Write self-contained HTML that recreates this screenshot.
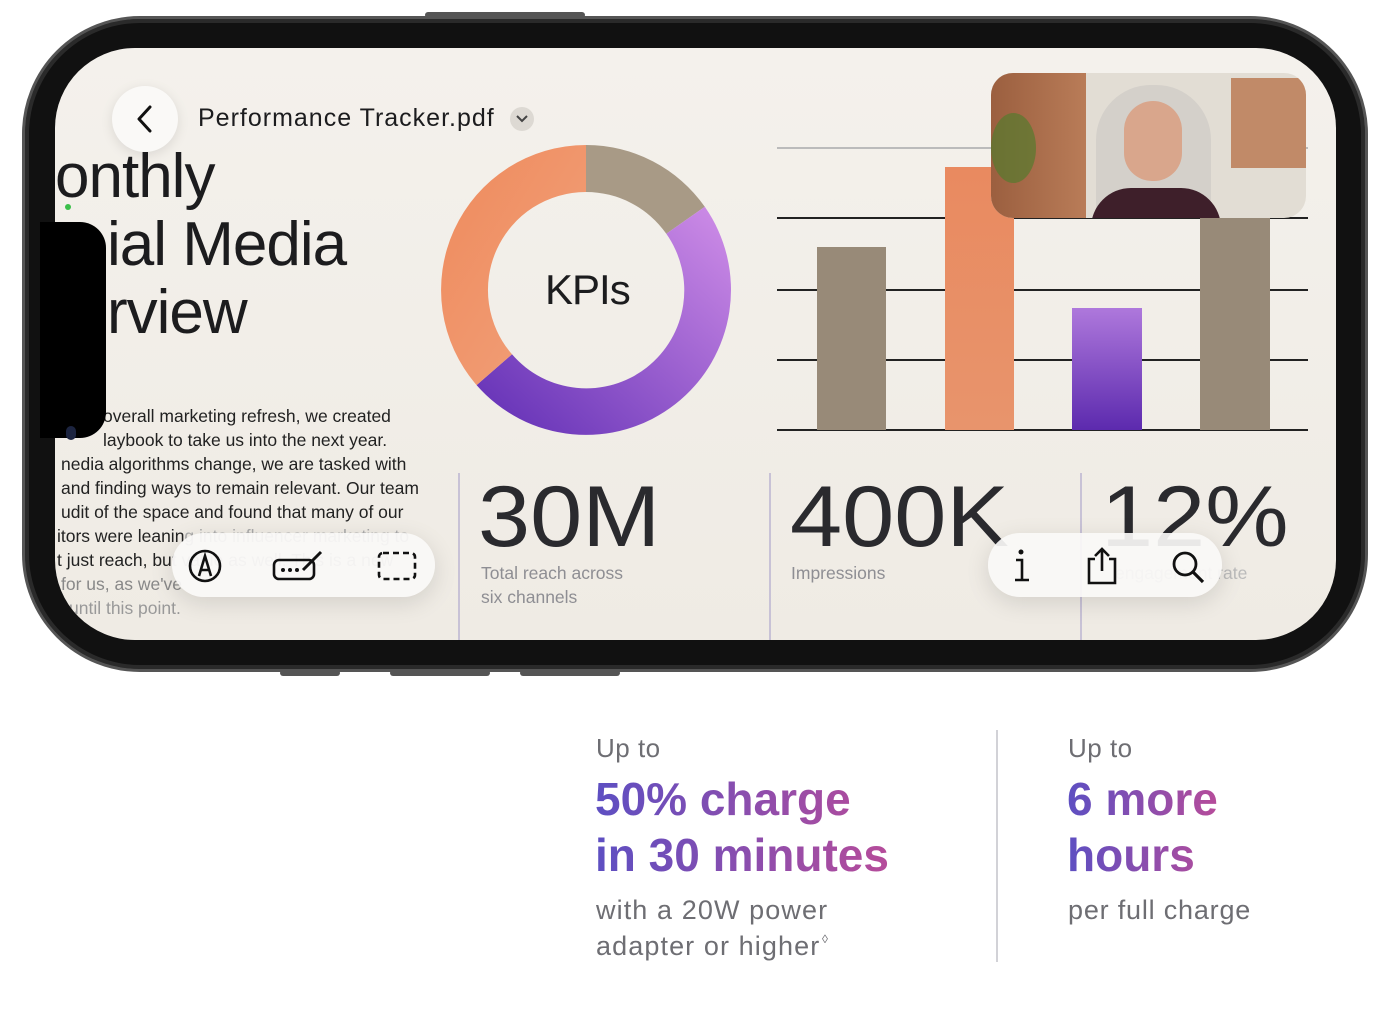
<!DOCTYPE html>
<html><head><style>
*{margin:0;padding:0;box-sizing:border-box}
body{width:1384px;height:1018px;background:#fff;font-family:"Liberation Sans",sans-serif;position:relative;overflow:hidden}
.abs{position:absolute}
.frame{left:22px;top:16px;width:1346px;height:656px;border-radius:118px;background:#111;border:3px solid #555;box-shadow:inset 0 0 0 4px #2a2a2a}
.screen{left:55px;top:48px;width:1281px;height:592px;border-radius:80px;background:linear-gradient(180deg,#f4f1ec,#efebe4);overflow:hidden}
.t{position:absolute;white-space:nowrap;color:#1c1c1e}
.body{font-size:17.5px;line-height:24.3px;color:#222}
.num{font-size:86px;font-weight:400;color:#2a2a2e;transform-origin:0 0;transform:scaleX(1.09)}
.lbl{font-size:17.5px;color:#8e8e93;line-height:24px}
.pill{background:rgba(250,249,247,.92);border-radius:34px;box-shadow:0 6px 24px rgba(0,0,0,.12)}
.grad{background:linear-gradient(90deg,#5d4fc2,#b64c9a);-webkit-background-clip:text;background-clip:text;color:transparent}
</style></head><body>
<div class="abs" style="left:425px;top:12px;width:160px;height:6px;background:#555;border-radius:3px"></div>
<div class="abs" style="left:280px;top:670px;width:60px;height:6px;background:#555;border-radius:3px"></div>
<div class="abs" style="left:390px;top:670px;width:100px;height:6px;background:#555;border-radius:3px"></div>
<div class="abs" style="left:520px;top:670px;width:100px;height:6px;background:#555;border-radius:3px"></div>
<div class="abs frame"></div>
<div class="abs screen">
  <div class="t" style="left:0;top:95px;font-size:62px;line-height:68px;letter-spacing:-1px">onthly</div>
  <div class="t" style="left:52px;top:163px;font-size:62px;line-height:68px;letter-spacing:-1px">ial Media</div>
  <div class="t" style="left:52px;top:231px;font-size:62px;line-height:68px;letter-spacing:-1px">rview</div>
  <div class="abs" style="left:10px;top:156px;width:6px;height:6px;border-radius:3px;background:#3bbf4a"></div>
  <div class="t body" style="left:48px;top:356px">overall marketing refresh, we created</div>
  <div class="t body" style="left:48px;top:380px">laybook to take us into the next year.</div>
  <div class="t body" style="left:6px;top:404px">nedia algorithms change, we are tasked with</div>
  <div class="t body" style="left:6px;top:428px">and finding ways to remain relevant. Our team</div>
  <div class="t body" style="left:6px;top:452px">udit of the space and found that many of our</div>
  <div class="t body" style="left:2px;top:476px">itors were leanin<span style="color:#aaa">g into influencer marketing to</span></div>
  <div class="t body" style="left:2px;top:500px">t just reach, bu<span style="color:#aaa">t value as well. This is a new</span></div>
  <div class="t body" style="left:6px;top:524px;color:#888">for us, as we've</div>
  <div class="t body" style="left:14px;top:548px;color:#999">until this point.</div>
  <div class="abs" style="left:57px;top:38px;width:66px;height:66px;border-radius:33px;background:#faf9f7;box-shadow:0 3px 12px rgba(0,0,0,.1)"></div>
  <svg class="abs" style="left:78px;top:56px" width="24" height="30"><path d="M17 3 L6 15 L17 27" stroke="#111" stroke-width="3" fill="none" stroke-linecap="round" stroke-linejoin="round"/></svg>
  <div class="t" style="left:143px;top:56px;font-size:25px;letter-spacing:1px">Performance Tracker.pdf</div>
  <div class="abs" style="left:455px;top:59px;width:24px;height:24px;border-radius:12px;background:#ddd9d3"></div>
  <svg class="abs" style="left:459px;top:64px" width="16" height="14"><path d="M3 4 L8 9 L13 4" stroke="#444" stroke-width="2" fill="none"/></svg>
  <svg class="abs" style="left:386px;top:97px" width="290" height="290" viewBox="-145 -145 290 290">
    <defs><linearGradient id="pg" x1="1" y1="0" x2="0" y2="1"><stop offset="0" stop-color="#d08ee8"/><stop offset="1" stop-color="#5f2db4"/></linearGradient>
    <linearGradient id="og" x1="0" y1="0" x2="1" y2="1"><stop offset="0" stop-color="#ee8a5c"/><stop offset="1" stop-color="#f2a27c"/></linearGradient></defs>
    <path d="M0 -145 A145 145 0 0 1 118.8 -83.2 L80.3 -56.2 A98 98 0 0 0 0 -98 Z" fill="#a89a86"/>
    <path d="M118.8 -83.2 A145 145 0 0 1 -109.4 95.1 L-74 64.3 A98 98 0 0 0 80.3 -56.2 Z" fill="url(#pg)"/>
    <path d="M-109.4 95.1 A145 145 0 0 1 0 -145 L0 -98 A98 98 0 0 0 -74 64.3 Z" fill="url(#og)"/>
  </svg>
  <div class="t" style="left:490px;top:218px;font-size:42px;letter-spacing:-1px">KPIs</div>
  <div class="abs" style="left:722px;top:99px;width:531px;height:2px;background:#bbb"></div>
  <div class="abs" style="left:722px;top:169px;width:531px;height:2px;background:#222"></div>
  <div class="abs" style="left:722px;top:241px;width:531px;height:2px;background:#222"></div>
  <div class="abs" style="left:722px;top:311px;width:531px;height:2px;background:#222"></div>
  <div class="abs" style="left:722px;top:381px;width:531px;height:2px;background:#222"></div>
  <div class="abs" style="left:762px;top:199px;width:69px;height:183px;background:#988a78"></div>
  <div class="abs" style="left:890px;top:119px;width:69px;height:263px;background:linear-gradient(180deg,#e98a60,#e8946c)"></div>
  <div class="abs" style="left:1017px;top:260px;width:70px;height:122px;background:linear-gradient(180deg,#ae78dc,#5c2aae)"></div>
  <div class="abs" style="left:1145px;top:170px;width:70px;height:212px;background:#988a78"></div>
  <div class="abs" style="left:936px;top:25px;width:315px;height:145px;border-radius:22px;overflow:hidden;background:#e2ddd4">
    <div class="abs" style="left:0;top:0;width:95px;height:145px;background:linear-gradient(90deg,#9b5f3f,#b97c58)"></div>
    <div class="abs" style="left:0;top:40px;width:45px;height:70px;background:#557a2e;border-radius:50%;opacity:.7"></div>
    <div class="abs" style="left:240px;top:5px;width:75px;height:90px;background:#c18a68"></div>
    <div class="abs" style="left:105px;top:12px;width:115px;height:150px;border-radius:55px 55px 10px 10px;background:#d4d0ca"></div>
    <div class="abs" style="left:133px;top:28px;width:58px;height:80px;border-radius:29px 29px 28px 28px;background:#d9a68c"></div>
    <div class="abs" style="left:100px;top:115px;width:130px;height:40px;border-radius:40px 40px 0 0;background:#3e1f2a"></div>
  </div>
  <div class="abs" style="left:403px;top:425px;width:2px;height:170px;background:#c8c2d6"></div>
  <div class="abs" style="left:714px;top:425px;width:2px;height:170px;background:#c8c2d6"></div>
  <div class="abs" style="left:1025px;top:425px;width:2px;height:170px;background:#c8c2d6"></div>
  <div class="t num" style="left:423px;top:420px">30M</div>
  <div class="t num" style="left:735px;top:420px">400K</div>
  <div class="t num" style="left:1046px;top:420px">12%</div>
  <div class="t lbl" style="left:426px;top:513px">Total reach across<br>six channels</div>
  <div class="t lbl" style="left:736px;top:513px">Impressions</div>
  <div class="t lbl" style="left:1060px;top:513px;color:#bbb">engagement rate</div>
  <div class="abs pill" style="left:117px;top:485px;width:263px;height:64px"></div>
  <svg class="abs" style="left:132px;top:500px" width="240" height="40">
    <circle cx="18" cy="18" r="15" stroke="#111" stroke-width="2.6" fill="none"/>
    <path d="M12 28 L18 8 L24 28 M14 22 L22 22" stroke="#111" stroke-width="2.6" fill="none"/>
    <rect x="87" y="12" width="40" height="19" rx="5" stroke="#111" stroke-width="2.6" fill="none"/>
    <circle cx="96" cy="22" r="2" fill="#111"/><circle cx="103" cy="22" r="2" fill="#111"/><circle cx="110" cy="22" r="2" fill="#111"/>
    <path d="M116 22 L134 4" stroke="#111" stroke-width="3"/>
    <rect x="192" y="5" width="36" height="26" rx="4" stroke="#111" stroke-width="2.6" fill="none" stroke-dasharray="6 4"/>
  </svg>
  <div class="abs pill" style="left:933px;top:485px;width:234px;height:64px"></div>
  <svg class="abs" style="left:950px;top:498px" width="210" height="40">
    <circle cx="16" cy="6" r="2.5" fill="#111"/>
    <path d="M11 14 L17 14 L17 34 M10 34 L24 34" stroke="#111" stroke-width="2.6" fill="none"/>
    <path d="M90 13 L84 13 L84 37 L110 37 L110 13 L104 13 M97 25 L97 3 M90 10 L97 3 L104 10" stroke="#111" stroke-width="2.6" fill="none"/>
    <circle cx="180" cy="18" r="11" stroke="#111" stroke-width="2.8" fill="none"/>
    <path d="M188 26 L198 36" stroke="#111" stroke-width="3.2"/>
  </svg>
</div>
<div class="abs" style="left:40px;top:222px;width:66px;height:216px;background:#000;border-radius:0 26px 26px 0"></div>
<div class="abs" style="left:66px;top:426px;width:10px;height:14px;border-radius:5px;background:#1c2440"></div>
<div class="abs" style="left:996px;top:730px;width:2px;height:232px;background:#d2d2d7"></div>
<div class="t" style="left:596px;top:733px;font-size:26px;color:#6e6e73;letter-spacing:.5px">Up to</div>
<div class="t grad" style="left:595px;top:771px;font-size:46px;line-height:56px;font-weight:bold">50% charge<br>in 30 minutes</div>
<div class="t" style="left:596px;top:892px;font-size:27px;line-height:36px;color:#6e6e73;letter-spacing:1.1px">with a 20W power</div>
<div class="t" style="left:596px;top:928px;font-size:27px;line-height:36px;color:#6e6e73;letter-spacing:1.1px">adapter or higher</div>
<div class="t" style="left:822px;top:932px;font-size:12px;color:#6e6e73">◊</div>
<div class="t" style="left:1068px;top:733px;font-size:26px;color:#6e6e73;letter-spacing:.5px">Up to</div>
<div class="t grad" style="left:1067px;top:771px;font-size:46px;line-height:56px;font-weight:bold">6 more<br>hours</div>
<div class="t" style="left:1068px;top:892px;font-size:27px;line-height:36px;color:#6e6e73;letter-spacing:.8px">per full charge</div>
</body></html>
